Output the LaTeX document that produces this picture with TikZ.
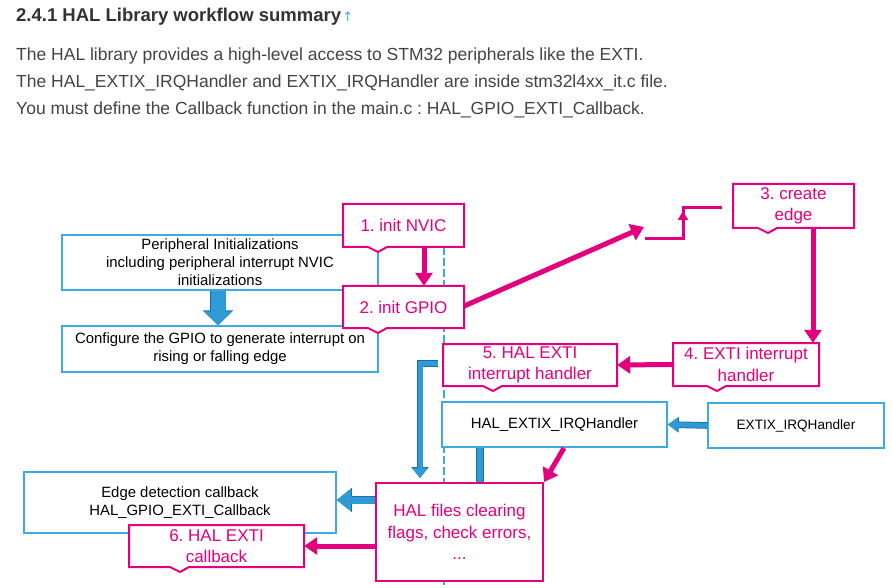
\documentclass[tikz,border=0pt]{standalone}
\usepackage{fontspec}
\setmainfont{Liberation Sans}
\newfontfamily\arrowfont{DejaVu Sans}
\usetikzlibrary{arrows.meta,calc}
\frenchspacing
\definecolor{stmag}{HTML}{E3007F}
\definecolor{stblue}{HTML}{3DAAE0}
\definecolor{bfill}{HTML}{2E9BD6}
\definecolor{bdark}{HTML}{1C6EA4}
\definecolor{headc}{HTML}{333333}
\definecolor{bodyc}{HTML}{444444}
\tikzset{
  bluebox/.style={draw=stblue, line width=1.5pt, fill=white, align=center, inner sep=0pt,
    font=\fontsize{14.9}{18}\selectfont, text=black},
  magtext/.style={draw=none, align=center, inner sep=0pt,
    font=\fontsize{17}{21.5}\selectfont, text=stmag},
  magline/.style={draw=stmag, line width=2pt, line join=miter, fill=white},
  magarrow/.style={draw=stmag, line width=5pt, -{Triangle[width=17pt,length=13pt]}},
  barrow/.style n args={3}{draw=bfill, line width=#1, line join=miter,
    -{Triangle[width=#2,length=#3]},
    preaction={draw=bdark, line width=#1+1.6pt, -{Triangle[width=#2+2pt,length=#3+1pt]}}},
  bbar/.style={draw=bfill, line width=6pt, preaction={draw=bdark, line width=7.6pt}},
  bodytext/.style={anchor=base west, inner sep=0pt, font=\fontsize{17.5}{20}\selectfont, text=bodyc}
}
% name, x1, y1, x2, y2, notch x, text
\newcommand\magbox[7]{%
  \filldraw[magline] (#2,#3) -- (#4,#3) -- (#4,#5) -- ({#6+9},#5) -- (#6,{#5+5})
     -- ({#6-10},#5) -- (#2,#5) -- cycle;
  \node[magtext, minimum width=#4pt-#2pt, minimum height=#5pt-#3pt] (#1)
     at ({(#2+#4)/2},{(#3+#5)/2}) {#7};
}
\begin{document}
\begin{tikzpicture}[x=1pt,y=-1pt]
\useasboundingbox[fill=white] (0,0) rectangle (892,588);

% header text
\node[anchor=base west, inner sep=0pt, font=\fontsize{18.5}{22}\selectfont\bfseries, text=headc]
  (title) at (16,22) {2.4.1 HAL Library workflow summary};
\node[anchor=base west, inner sep=0pt, xshift=1pt, font=\arrowfont\fontsize{13}{15}\selectfont, text=stblue]
  (uparrow) at (title.base east) {↑};
\node[bodytext] (l1) at (16,61) {The HAL library provides a high-level access to STM32 peripherals like the EXTI.};
\node[bodytext] (l2) at (16,88) {The HAL\_EXTIX\_IRQHandler and EXTIX\_IRQHandler are inside stm32l4xx\_it.c file.};
\node[bodytext] (l3) at (16,115) {You must define the Callback function in the main.c : HAL\_GPIO\_EXTI\_Callback.};

% helper coordinates
\coordinate (x218) at (218,0);
\coordinate (x424) at (424,0);
\coordinate (x444) at (444,0);
\coordinate (x480) at (480,0);
\coordinate (x813) at (813,0);
\coordinate (ybot) at (0,588);
\coordinate (y500) at (0,500);

% blue boxes
\node[bluebox, minimum width=316pt, minimum height=55pt] (A) at (220,262.5)
  {Peripheral Initializations\\including peripheral interrupt NVIC\\initializations};
\node[bluebox, minimum width=316pt, minimum height=46pt] (B) at (220,349)
  {Configure the GPIO to generate interrupt on\\rising or falling edge};

% dashed timeline
\draw[stblue, line width=1.5pt, dash pattern=on 8pt off 3pt] (x444 |- 0,247) -- (x444 |- ybot);

\node[bluebox, minimum width=225pt, minimum height=45pt] (C) at (554.5,424.5) {HAL\_EXTIX\_IRQHandler};
\node[bluebox, minimum width=176pt, minimum height=45pt, font=\fontsize{13.6}{16}\selectfont] (D) at (796,425.5) {EXTIX\_IRQHandler};
\node[bluebox, minimum width=312pt, minimum height=61pt] (E) at (180,502.5)
  {Edge detection callback\\HAL\_GPIO\_EXTI\_Callback};

% magenta boxes
\magbox{m1}{343}{204}{464}{247}{378}{1. init NVIC}
\magbox{m2}{343}{286}{464}{328}{378}{2. init GPIO}
\magbox{m3}{733}{184}{854}{228}{768}{3. create\\edge}
\magbox{m4}{673}{343}{819}{386}{717}{4. EXTI interrupt\\handler}
\magbox{m5}{443}{344}{617}{386}{493}{5. HAL EXTI\\interrupt handler}
\node[magtext, draw=stmag, line width=2pt, fill=white, minimum width=167pt, minimum height=98pt] (H)
  at (459.5,532) {HAL files clearing\\flags, check errors,\\...};
\magbox{m6}{129}{525}{304}{567}{180}{6. HAL EXTI\\callback}

% edge symbol
\coordinate (e1) at (645,239);
\coordinate (e2) at (683,239);
\coordinate (e3) at (683,208);
\coordinate (e4) at (722,208);
\coordinate (etip) at (644,227);
\draw[stmag, line width=3pt, line join=miter] (e1) -- (e2) -- (e3) -- (e4);
\draw[stmag, line width=3pt, -{Triangle[width=10pt,length=9pt]}] (683,226) -- (683,211);

% magenta arrows
\draw[magarrow] (m1.south -| x424) -- (m2.north -| x424);
\draw[magarrow] (m2.east) ++(0,-1) -- (etip);
\draw[magarrow] (m3.south -| x813) -- (m4.north -| x813);
\draw[magarrow] (m4.west) -- (m5.east);
\coordinate (c1) at (564,448);
\draw[magarrow] (c1) -- (H.north east);
\draw[magarrow] (m6.east -| H.west) -- (m6.east);

% blue arrows
\draw[barrow={15pt}{28pt}{14pt}] (A.south -| x218) -- (B.north -| x218);
\draw[barrow={5pt}{13pt}{10pt}] (D.west) -- (C.east);
\draw[bbar] (C.south -| x480) -- (H.north -| x480);
\coordinate (el) at (438,363.5);
\coordinate (eltip) at (420,478);
\draw[barrow={5pt}{15pt}{10pt}] (el) -| (eltip);
\draw[barrow={7pt}{21pt}{14pt}] (H.west |- y500) -- (E.east |- y500);
\end{tikzpicture}
\end{document}
